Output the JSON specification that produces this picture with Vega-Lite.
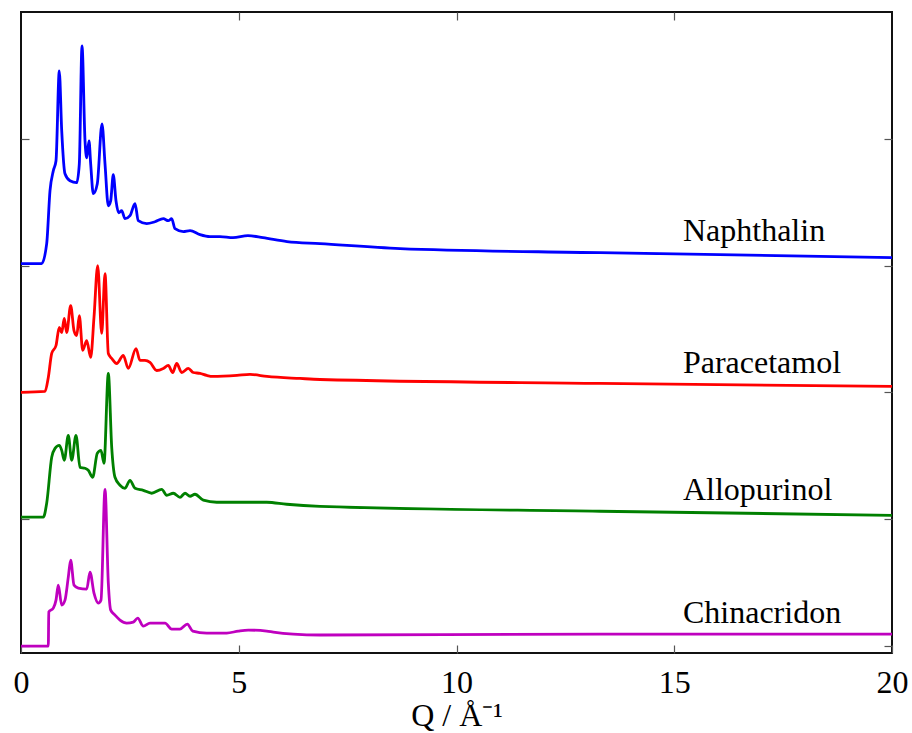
{
  "$schema": "https://vega.github.io/schema/vega-lite/v6.json",
  "width": 871,
  "height": 641,
  "autosize": {"type": "none"},
  "padding": {"left": 21, "top": 12, "right": 20, "bottom": 80},
  "background": "white",
  "config": {
    "view": {"stroke": "#111", "strokeWidth": 2},
    "font": "Liberation Serif",
    "axis": {"grid": false, "domain": false, "tickColor": "#555", "tickWidth": 1.2, "labelFont": "Liberation Serif", "titleFont": "Liberation Serif", "labelColor": "#000", "titleColor": "#000"}
  },
  "datasets": {
    "curves": [
      {"series": "Naphthalin", "Q": 0, "v": 3.016},
      {"series": "Naphthalin", "Q": 0.475, "v": 3.016},
      {"series": "Naphthalin", "Q": 0.59, "v": 3.173},
      {"series": "Naphthalin", "Q": 0.666, "v": 3.591},
      {"series": "Naphthalin", "Q": 0.742, "v": 3.748},
      {"series": "Naphthalin", "Q": 0.804, "v": 3.827},
      {"series": "Naphthalin", "Q": 0.879, "v": 4.535},
      {"series": "Naphthalin", "Q": 0.935, "v": 4.063},
      {"series": "Naphthalin", "Q": 1.01, "v": 3.724},
      {"series": "Naphthalin", "Q": 1.125, "v": 3.669},
      {"series": "Naphthalin", "Q": 1.279, "v": 3.654},
      {"series": "Naphthalin", "Q": 1.339, "v": 3.803},
      {"series": "Naphthalin", "Q": 1.401, "v": 4.732},
      {"series": "Naphthalin", "Q": 1.47, "v": 3.984},
      {"series": "Naphthalin", "Q": 1.509, "v": 3.85},
      {"series": "Naphthalin", "Q": 1.561, "v": 3.984},
      {"series": "Naphthalin", "Q": 1.6, "v": 3.803},
      {"series": "Naphthalin", "Q": 1.66, "v": 3.567},
      {"series": "Naphthalin", "Q": 1.752, "v": 3.646},
      {"series": "Naphthalin", "Q": 1.86, "v": 4.118},
      {"series": "Naphthalin", "Q": 1.929, "v": 3.803},
      {"series": "Naphthalin", "Q": 2.005, "v": 3.472},
      {"series": "Naphthalin", "Q": 2.06, "v": 3.512},
      {"series": "Naphthalin", "Q": 2.119, "v": 3.717},
      {"series": "Naphthalin", "Q": 2.181, "v": 3.512},
      {"series": "Naphthalin", "Q": 2.243, "v": 3.417},
      {"series": "Naphthalin", "Q": 2.312, "v": 3.433},
      {"series": "Naphthalin", "Q": 2.388, "v": 3.37},
      {"series": "Naphthalin", "Q": 2.503, "v": 3.394},
      {"series": "Naphthalin", "Q": 2.618, "v": 3.488},
      {"series": "Naphthalin", "Q": 2.693, "v": 3.354},
      {"series": "Naphthalin", "Q": 2.886, "v": 3.331},
      {"series": "Naphthalin", "Q": 3.077, "v": 3.346},
      {"series": "Naphthalin", "Q": 3.268, "v": 3.37},
      {"series": "Naphthalin", "Q": 3.382, "v": 3.354},
      {"series": "Naphthalin", "Q": 3.46, "v": 3.37},
      {"series": "Naphthalin", "Q": 3.536, "v": 3.291},
      {"series": "Naphthalin", "Q": 3.727, "v": 3.268},
      {"series": "Naphthalin", "Q": 3.881, "v": 3.276},
      {"series": "Naphthalin", "Q": 4.11, "v": 3.244},
      {"series": "Naphthalin", "Q": 4.34, "v": 3.228},
      {"series": "Naphthalin", "Q": 4.569, "v": 3.228},
      {"series": "Naphthalin", "Q": 4.868, "v": 3.22},
      {"series": "Naphthalin", "Q": 5.212, "v": 3.236},
      {"series": "Naphthalin", "Q": 5.557, "v": 3.22},
      {"series": "Naphthalin", "Q": 6.108, "v": 3.189},
      {"series": "Naphthalin", "Q": 6.866, "v": 3.173},
      {"series": "Naphthalin", "Q": 8.703, "v": 3.134},
      {"series": "Naphthalin", "Q": 13.295, "v": 3.102},
      {"series": "Naphthalin", "Q": 20, "v": 3.063},

      {"series": "Paracetamol", "Q": 0, "v": 2.0},
      {"series": "Paracetamol", "Q": 0.551, "v": 2.008},
      {"series": "Paracetamol", "Q": 0.627, "v": 2.118},
      {"series": "Paracetamol", "Q": 0.705, "v": 2.307},
      {"series": "Paracetamol", "Q": 0.804, "v": 2.37},
      {"series": "Paracetamol", "Q": 0.879, "v": 2.512},
      {"series": "Paracetamol", "Q": 0.935, "v": 2.472},
      {"series": "Paracetamol", "Q": 0.994, "v": 2.583},
      {"series": "Paracetamol", "Q": 1.049, "v": 2.472},
      {"series": "Paracetamol", "Q": 1.141, "v": 2.685},
      {"series": "Paracetamol", "Q": 1.217, "v": 2.488},
      {"series": "Paracetamol", "Q": 1.279, "v": 2.449},
      {"series": "Paracetamol", "Q": 1.339, "v": 2.606},
      {"series": "Paracetamol", "Q": 1.417, "v": 2.331},
      {"series": "Paracetamol", "Q": 1.509, "v": 2.409},
      {"series": "Paracetamol", "Q": 1.6, "v": 2.276},
      {"series": "Paracetamol", "Q": 1.676, "v": 2.591},
      {"series": "Paracetamol", "Q": 1.761, "v": 3.0},
      {"series": "Paracetamol", "Q": 1.853, "v": 2.465},
      {"series": "Paracetamol", "Q": 1.929, "v": 2.937},
      {"series": "Paracetamol", "Q": 2.005, "v": 2.307},
      {"series": "Paracetamol", "Q": 2.083, "v": 2.268},
      {"series": "Paracetamol", "Q": 2.197, "v": 2.228},
      {"series": "Paracetamol", "Q": 2.349, "v": 2.291},
      {"series": "Paracetamol", "Q": 2.464, "v": 2.189},
      {"series": "Paracetamol", "Q": 2.641, "v": 2.346},
      {"series": "Paracetamol", "Q": 2.732, "v": 2.252},
      {"series": "Paracetamol", "Q": 2.847, "v": 2.252},
      {"series": "Paracetamol", "Q": 2.962, "v": 2.236},
      {"series": "Paracetamol", "Q": 3.116, "v": 2.173},
      {"series": "Paracetamol", "Q": 3.268, "v": 2.189},
      {"series": "Paracetamol", "Q": 3.382, "v": 2.213},
      {"series": "Paracetamol", "Q": 3.483, "v": 2.157},
      {"series": "Paracetamol", "Q": 3.575, "v": 2.228},
      {"series": "Paracetamol", "Q": 3.69, "v": 2.157},
      {"series": "Paracetamol", "Q": 3.842, "v": 2.189},
      {"series": "Paracetamol", "Q": 3.956, "v": 2.157},
      {"series": "Paracetamol", "Q": 4.11, "v": 2.15},
      {"series": "Paracetamol", "Q": 4.264, "v": 2.134},
      {"series": "Paracetamol", "Q": 4.409, "v": 2.126},
      {"series": "Paracetamol", "Q": 4.96, "v": 2.134},
      {"series": "Paracetamol", "Q": 5.258, "v": 2.142},
      {"series": "Paracetamol", "Q": 5.649, "v": 2.126},
      {"series": "Paracetamol", "Q": 6.407, "v": 2.11},
      {"series": "Paracetamol", "Q": 6.866, "v": 2.102},
      {"series": "Paracetamol", "Q": 13.295, "v": 2.071},
      {"series": "Paracetamol", "Q": 20, "v": 2.047},

      {"series": "Allopurinol", "Q": 0, "v": 1.016},
      {"series": "Allopurinol", "Q": 0.512, "v": 1.016},
      {"series": "Allopurinol", "Q": 0.59, "v": 1.126},
      {"series": "Allopurinol", "Q": 0.705, "v": 1.488},
      {"series": "Allopurinol", "Q": 0.781, "v": 1.559},
      {"series": "Allopurinol", "Q": 0.879, "v": 1.583},
      {"series": "Allopurinol", "Q": 0.935, "v": 1.543},
      {"series": "Allopurinol", "Q": 0.994, "v": 1.465},
      {"series": "Allopurinol", "Q": 1.086, "v": 1.661},
      {"series": "Allopurinol", "Q": 1.164, "v": 1.465},
      {"series": "Allopurinol", "Q": 1.263, "v": 1.661},
      {"series": "Allopurinol", "Q": 1.355, "v": 1.409},
      {"series": "Allopurinol", "Q": 1.47, "v": 1.402},
      {"series": "Allopurinol", "Q": 1.545, "v": 1.386},
      {"series": "Allopurinol", "Q": 1.646, "v": 1.331},
      {"series": "Allopurinol", "Q": 1.752, "v": 1.52},
      {"series": "Allopurinol", "Q": 1.837, "v": 1.543},
      {"series": "Allopurinol", "Q": 1.906, "v": 1.441},
      {"series": "Allopurinol", "Q": 2.005, "v": 2.15},
      {"series": "Allopurinol", "Q": 2.083, "v": 1.567},
      {"series": "Allopurinol", "Q": 2.158, "v": 1.331},
      {"series": "Allopurinol", "Q": 2.273, "v": 1.268},
      {"series": "Allopurinol", "Q": 2.388, "v": 1.244},
      {"series": "Allopurinol", "Q": 2.503, "v": 1.307},
      {"series": "Allopurinol", "Q": 2.618, "v": 1.244},
      {"series": "Allopurinol", "Q": 2.808, "v": 1.228},
      {"series": "Allopurinol", "Q": 3.001, "v": 1.205},
      {"series": "Allopurinol", "Q": 3.231, "v": 1.236},
      {"series": "Allopurinol", "Q": 3.346, "v": 1.189},
      {"series": "Allopurinol", "Q": 3.497, "v": 1.205},
      {"series": "Allopurinol", "Q": 3.651, "v": 1.173},
      {"series": "Allopurinol", "Q": 3.766, "v": 1.205},
      {"series": "Allopurinol", "Q": 3.881, "v": 1.181},
      {"series": "Allopurinol", "Q": 3.995, "v": 1.197},
      {"series": "Allopurinol", "Q": 4.186, "v": 1.15},
      {"series": "Allopurinol", "Q": 4.494, "v": 1.134},
      {"series": "Allopurinol", "Q": 5.029, "v": 1.134},
      {"series": "Allopurinol", "Q": 5.642, "v": 1.134},
      {"series": "Allopurinol", "Q": 6.101, "v": 1.118},
      {"series": "Allopurinol", "Q": 6.866, "v": 1.102},
      {"series": "Allopurinol", "Q": 13.295, "v": 1.063},
      {"series": "Allopurinol", "Q": 20, "v": 1.031},

      {"series": "Chinacridon", "Q": 0, "v": 0.0},
      {"series": "Chinacridon", "Q": 0.627, "v": 0.0},
      {"series": "Chinacridon", "Q": 0.638, "v": 0.268},
      {"series": "Chinacridon", "Q": 0.742, "v": 0.299},
      {"series": "Chinacridon", "Q": 0.804, "v": 0.362},
      {"series": "Chinacridon", "Q": 0.856, "v": 0.48},
      {"series": "Chinacridon", "Q": 0.935, "v": 0.323},
      {"series": "Chinacridon", "Q": 1.01, "v": 0.362},
      {"series": "Chinacridon", "Q": 1.086, "v": 0.543},
      {"series": "Chinacridon", "Q": 1.141, "v": 0.677},
      {"series": "Chinacridon", "Q": 1.217, "v": 0.48},
      {"series": "Chinacridon", "Q": 1.316, "v": 0.457},
      {"series": "Chinacridon", "Q": 1.509, "v": 0.449},
      {"series": "Chinacridon", "Q": 1.584, "v": 0.583},
      {"series": "Chinacridon", "Q": 1.676, "v": 0.417},
      {"series": "Chinacridon", "Q": 1.775, "v": 0.339},
      {"series": "Chinacridon", "Q": 1.837, "v": 0.362},
      {"series": "Chinacridon", "Q": 1.929, "v": 1.236},
      {"series": "Chinacridon", "Q": 2.005, "v": 0.496},
      {"series": "Chinacridon", "Q": 2.06, "v": 0.283},
      {"series": "Chinacridon", "Q": 2.158, "v": 0.244},
      {"series": "Chinacridon", "Q": 2.273, "v": 0.205},
      {"series": "Chinacridon", "Q": 2.427, "v": 0.181},
      {"series": "Chinacridon", "Q": 2.579, "v": 0.189},
      {"series": "Chinacridon", "Q": 2.68, "v": 0.22},
      {"series": "Chinacridon", "Q": 2.808, "v": 0.157},
      {"series": "Chinacridon", "Q": 2.962, "v": 0.181},
      {"series": "Chinacridon", "Q": 3.116, "v": 0.181},
      {"series": "Chinacridon", "Q": 3.307, "v": 0.181},
      {"series": "Chinacridon", "Q": 3.46, "v": 0.134},
      {"series": "Chinacridon", "Q": 3.651, "v": 0.134},
      {"series": "Chinacridon", "Q": 3.819, "v": 0.173},
      {"series": "Chinacridon", "Q": 3.943, "v": 0.118},
      {"series": "Chinacridon", "Q": 4.264, "v": 0.102},
      {"series": "Chinacridon", "Q": 4.723, "v": 0.102},
      {"series": "Chinacridon", "Q": 4.99, "v": 0.118},
      {"series": "Chinacridon", "Q": 5.219, "v": 0.126},
      {"series": "Chinacridon", "Q": 5.642, "v": 0.118},
      {"series": "Chinacridon", "Q": 5.793, "v": 0.11},
      {"series": "Chinacridon", "Q": 6.253, "v": 0.094},
      {"series": "Chinacridon", "Q": 6.866, "v": 0.087},
      {"series": "Chinacridon", "Q": 13.295, "v": 0.094},
      {"series": "Chinacridon", "Q": 20, "v": 0.094}
    ],
    "labels": [
      {"series": "Naphthalin", "Q": 15.2, "v": 3.197},
      {"series": "Paracetamol", "Q": 15.2, "v": 2.157},
      {"series": "Allopurinol", "Q": 15.2, "v": 1.15},
      {"series": "Chinacridon", "Q": 15.2, "v": 0.181}
    ]
  },
  "layer": [
    {
      "data": {"name": "curves"},
      "mark": {"type": "line", "strokeWidth": 2.8, "interpolate": "monotone", "strokeJoin": "round"},
      "encoding": {
        "x": {"field": "Q", "type": "quantitative", "scale": {"domain": [0, 20], "nice": false, "zero": false},
              "axis": {"orient": "bottom", "values": [0, 5, 10, 15, 20], "tickSize": -8, "labelPadding": 22, "labelFontSize": 32, "labelFlush": false,
                       "title": "Q / Å⁻¹", "titleFontSize": 32, "titleFontWeight": "normal", "titlePadding": 2}},
        "y": {"field": "v", "type": "quantitative", "scale": {"domain": [-0.055, 5], "nice": false, "zero": false},
              "axis": {"orient": "left", "values": [0, 1, 2, 3, 4], "tickSize": -8, "labels": false, "title": null}},
        "color": {"field": "series", "type": "nominal", "legend": null,
                  "scale": {"domain": ["Naphthalin", "Paracetamol", "Allopurinol", "Chinacridon"], "range": ["#0000ff", "#ff0000", "#008000", "#bf00bf"]}},
        "detail": {"field": "series"}
      }
    },
    {
      "data": {"name": "labels"},
      "mark": {"type": "text", "align": "left", "baseline": "alphabetic", "fontSize": 32, "font": "Liberation Serif", "color": "#000"},
      "encoding": {
        "x": {"field": "Q", "type": "quantitative", "axis": {"orient": "top", "values": [5, 10, 15], "tickSize": -8, "labels": false, "title": null}},
        "y": {"field": "v", "type": "quantitative", "axis": {"orient": "right", "values": [0, 1, 2, 3, 4], "tickSize": -8, "labels": false, "title": null}},
        "text": {"field": "series"}
      }
    }
  ],
  "resolve": {"axis": {"x": "independent", "y": "independent"}}
}
